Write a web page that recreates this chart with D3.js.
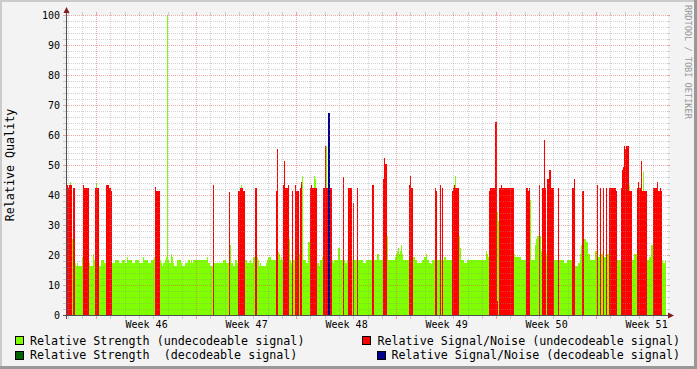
<!DOCTYPE html>
<html>
<head>
<meta charset="utf-8">
<script src="https://cdn.jsdelivr.net/npm/d3@7"></script>
<style>
  html, body { margin: 0; padding: 0; background: #f3f3f3; }
  svg { display: block; font-family: "DejaVu Sans Mono", monospace; }
</style>
</head>
<body>
<div id="graph"></div>
<script>
// consolidated rrd samples, one every 6048 s, first one Fri 2007-11-09 22:16
var start = new Date(2007, 10, 9, 22, 16)
var stepMs = 6048 * 1000
var sampleCount = 600

// relative strength (undecodeable signal), as [number of samples, value]
var strengthRuns = [
  [3, 17.3], [1, 44.2], [1, 17.3], [1, 25.3], [3, 17.3], [1, 16.4], [1, 17.3], [4, 16.4], [1, 19.4],
  [7, 17.3], [3, 16.4], [1, 20.3], [1, 18.3], [1, 17.3], [1, 44.0], [2, 17.3], [2, 16.4], [3, 18.3],
  [11, 17.3], [4, 18.3], [3, 17.3], [3, 18.3], [2, 17.3], [1, 19.2], [4, 18.3], [3, 17.3], [4, 18.3],
  [4, 17.3], [1, 19.2], [4, 18.3], [3, 17.3], [3, 18.3], [1, 19.2], [5, 17.3], [1, 18.3], [1, 17.3],
  [1, 16.4], [2, 17.3], [1, 18.3], [1, 19.2], [1, 100], [1, 18.3], [2, 17.3], [1, 20.3], [1, 19.2],
  [1, 17.3], [3, 16.4], [4, 18.3], [1, 17.3], [3, 16.4], [3, 17.3], [2, 18.3], [1, 17.3], [1, 18.3],
  [1, 17.3], [14, 18.3], [1, 19.2], [2, 17.3], [3, 16.4], [10, 17.3], [3, 18.3], [4, 17.3], [1, 23.3],
  [2, 17.3], [2, 16.4], [2, 18.2], [4, 17.3], [1, 43.3], [3, 17.3], [2, 18.2], [3, 17.3], [1, 18.2],
  [2, 17.3], [2, 19.3], [2, 17.3], [1, 19.3], [1, 18.2], [1, 16.4], [1, 17.3], [5, 16.4], [1, 17.3],
  [1, 18.2], [3, 19.3], [7, 18.2], [1, 21.1], [1, 20.2], [1, 18.2], [1, 19.3], [7, 18.2], [1, 25.3],
  [1, 18.2], [1, 17.3], [7, 18.2], [1, 20.3], [2, 18.2], [1, 46.2], [3, 18.2], [2, 17.3], [2, 24.2],
  [4, 18.2], [1, 46.2], [1, 45.3], [1, 18.2], [2, 17.3], [1, 16.4], [2, 18.2], [1, 19.3], [3, 18.2],
  [1, 56.4], [6, 18.2], [1, 17.3], [4, 18.2], [2, 22.2], [5, 18.2], [2, 17.3], [16, 18.2], [3, 17.3],
  [11, 18.2], [2, 20.3], [8, 18.2], [1, 26.4], [7, 18.2], [1, 19.3], [1, 20.2], [1, 21.3], [1, 22.2],
  [1, 20.2], [1, 21.3], [1, 23.3], [1, 20.2], [10, 18.2], [2, 19.2], [2, 18.2], [5, 17.3], [2, 18.2],
  [2, 19.2], [1, 20.2], [2, 18.2], [2, 17.3], [1, 16.9], [12, 18.2], [2, 19.2], [9, 18.2], [1, 46.2],
  [3, 18.2], [1, 26.4], [1, 22.2], [3, 18.2], [3, 17.3], [19, 18.2], [1, 21.3], [1, 20.2], [1, 19.2],
  [8, 18.2], [1, 34.2], [1, 31.4], [15, 18.2], [1, 20.2], [6, 19.2], [9, 18.2], [1, 38.2], [4, 18.2],
  [1, 23.3], [1, 25.3], [4, 26.3], [1, 21.3], [4, 18.2], [1, 20.2], [17, 18.2], [3, 17.3], [8, 18.2],
  [3, 16.4], [2, 17.3], [1, 20.2], [1, 23.3], [2, 18.2], [2, 25.3], [2, 24.2], [2, 20.2], [5, 18.2],
  [2, 21.3], [1, 18.2], [2, 19.2], [1, 18.2], [2, 20.2], [1, 18.2], [2, 19.2], [1, 18.2], [2, 20.2],
  [20, 18.2], [1, 43.3], [4, 18.2], [3, 20.2], [6, 18.2], [1, 47.6], [5, 18.2], [2, 19.2], [2, 23.3],
  [10, 18.2], [2, 17.3], [1, 18.2]
]

// relative strength (decodeable signal), as [first sample, last sample, value]
var strengthDecSpans = [[261, 262, 18.2]]

// relative signal/noise (undecodeable signal), as [first sample, last sample, value]
var snrSpans = [
  [0, 0, 43.3], [1, 1, 42.2], [2, 4, 43.3], [6, 7, 42.2],
  [16, 16, 43.3], [17, 21, 42.2], [28, 31, 42.2],
  [39, 41, 43.3], [42, 43, 42.2], [44, 44, 41.4],
  [88, 88, 42.6], [89, 92, 41.4], [146, 146, 43.3], [162, 162, 41.1],
  [171, 172, 41.3], [173, 175, 42.2], [176, 177, 41.3], [188, 189, 42.2],
  [209, 209, 41.3], [210, 210, 55.3],
  [216, 216, 43.3], [217, 217, 51.3], [218, 220, 42.2], [221, 221, 43.3],
  [225, 225, 41.3], [228, 228, 43.3], [229, 231, 41.3], [233, 233, 42.2], [234, 234, 44.2],
  [243, 243, 42.2], [244, 244, 43.3], [245, 249, 42.2],
  [256, 257, 42.2], [258, 258, 56.4], [259, 260, 42.2], [263, 264, 42.2],
  [276, 276, 46.0], [281, 284, 42.2], [286, 286, 37.3], [290, 290, 42.2], [305, 306, 43.3],
  [316, 316, 45.3], [317, 317, 52.3], [318, 319, 50.3],
  [342, 342, 43.3], [343, 343, 46.2], [344, 345, 42.2],
  [368, 368, 42.2], [369, 369, 41.3], [373, 373, 43.3], [375, 375, 42.2],
  [385, 385, 41.3], [386, 386, 42.2], [387, 387, 43.3], [388, 391, 42.2],
  [422, 422, 41.3], [423, 427, 42.2], [428, 429, 64.2], [430, 430, 4.7],
  [432, 433, 42.2], [434, 434, 43.3], [435, 446, 42.2],
  [459, 460, 42.2], [461, 461, 41.3], [462, 462, 42.2], [472, 472, 43.3],
  [475, 476, 42.2], [477, 477, 58.4], [478, 478, 42.2],
  [480, 481, 45.3], [482, 483, 48.3], [484, 486, 42.2], [491, 491, 42.2],
  [505, 506, 42.2], [507, 507, 45.3], [515, 516, 41.3],
  [530, 530, 43.3], [533, 533, 42.2], [536, 536, 42.2], [539, 539, 42.2],
  [542, 548, 42.2], [549, 549, 41.3],
  [554, 554, 42.2], [555, 555, 48.3], [556, 556, 49.3], [557, 557, 56.4], [558, 558, 55.3],
  [559, 561, 56.4], [562, 564, 41.3],
  [570, 570, 42.2], [571, 571, 44.2], [572, 573, 42.2], [574, 574, 51.3], [575, 579, 41.3],
  [586, 589, 42.2], [590, 590, 44.2], [591, 592, 41.3], [593, 593, 42.2], [594, 594, 41.3]
]

// relative signal/noise (decodeable signal)
var snrDecSpans = [[261, 262, 67.3]]

var yTicks = [0, 10, 20, 30, 40, 50, 60, 70, 80, 90, 100]
var legendLabels = [
  "Relative Strength (undecodeable signal)",
  "Relative Signal/Noise (undecodeable signal)",
  "Relative Strength  (decodeable signal)",
  "Relative Signal/Noise (decodeable signal)"
]

var width = 697,
  height = 369

var svg = d3.select("#graph")
  .append("svg")
  .attr("width", width)
  .attr("height", height)

var end = new Date(+start + sampleCount * stepMs)

var x = d3.scaleTime()
  .domain([start, end])
  .range([67, 667])

var y = d3.scaleLinear()
  .domain([0, 100])
  .range([315, 15])

function sampleTime(i) {
  return new Date(+start + i * stepMs)
}

function fromRuns(runs) {
  var out = [], i = 0
  runs.forEach(function (r) {
    for (var k = 0; k < r[0]; k++) out.push({ i: i++, v: r[1] })
  })
  return out
}

function fromSpans(spans) {
  var out = []
  spans.forEach(function (s) {
    for (var i = s[0]; i <= s[1]; i++) out.push({ i: i, v: s[2] })
  })
  return out
}

// background and 3d frame
svg.append("rect").attr("width", width).attr("height", height).attr("fill", "#f3f3f3")
svg.append("rect").attr("x", 0).attr("y", 0).attr("width", width).attr("height", 2).attr("fill", "#cbcbcb")
svg.append("rect").attr("x", 0).attr("y", 0).attr("width", 2).attr("height", height).attr("fill", "#cbcbcb")
svg.append("rect").attr("x", 0).attr("y", height - 3).attr("width", width).attr("height", 3).attr("fill", "#999")
svg.append("rect").attr("x", width - 3).attr("y", 0).attr("width", 3).attr("height", height).attr("fill", "#999")

// canvas
svg.append("rect")
  .attr("x", 67).attr("y", 15)
  .attr("width", 601).attr("height", 300)
  .attr("fill", "#fff")

function drawSeries(points, color) {
  svg.append("g")
    .attr("shape-rendering", "crispEdges")
    .selectAll("rect")
    .data(points)
    .enter()
    .append("rect")
    .attr("x", function (d) { return x(sampleTime(d.i)) })
    .attr("width", function (d) { return x(sampleTime(d.i + 1)) - x(sampleTime(d.i)) })
    .attr("y", function (d) { return y(d.v) })
    .attr("height", function (d) { return y(0) - y(d.v) })
    .attr("fill", color)
}

var colors = ["#7fff00", "#ff0000", "#006400", "#000090"]

drawSeries(fromRuns(strengthRuns), colors[0])
drawSeries(fromSpans(strengthDecSpans), colors[2])
drawSeries(fromSpans(snrSpans), colors[1])
drawSeries(fromSpans(snrDecSpans), colors[3])

// grid is drawn over the data, like rrdtool does
var minorColor = "rgba(143,143,143,0.4)",
  majorColor = "rgba(222,80,80,0.5)"
var grid = svg.append("g").attr("shape-rendering", "crispEdges")

function hGrid(v, color) {
  var yy = Math.round(y(v)) + 0.5
  grid.append("line").attr("x1", 67).attr("x2", 667).attr("y1", yy).attr("y2", yy)
    .attr("stroke", color).attr("stroke-dasharray", "1,1")
  grid.append("line").attr("x1", 63).attr("x2", 66).attr("y1", yy).attr("y2", yy).attr("stroke", color)
  grid.append("line").attr("x1", 667).attr("x2", 670).attr("y1", yy).attr("y2", yy).attr("stroke", color)
}

function vGrid(t, color) {
  var xx = Math.floor(x(t)) + 0.5
  grid.append("line").attr("x1", xx).attr("x2", xx).attr("y1", 15).attr("y2", 315)
    .attr("stroke", color).attr("stroke-dasharray", "1,1")
  grid.append("line").attr("x1", xx).attr("x2", xx).attr("y1", 316).attr("y2", 319).attr("stroke", color)
  grid.append("line").attr("x1", xx).attr("x2", xx).attr("y1", 12).attr("y2", 15).attr("stroke", color)
}

d3.range(2, 100, 2).filter(function (v) { return v % 10 !== 0 }).forEach(function (v) {
  hGrid(v, minorColor)
})
yTicks.filter(function (v) { return v > 0 }).forEach(function (v) {
  hGrid(v, majorColor)
})

var mondays = d3.timeMonday.range(start, end)
d3.timeDay.range(start, end).forEach(function (d) {
  if (d.getDay() !== 1) vGrid(d, minorColor)
})
mondays.forEach(function (d) {
  vGrid(d, majorColor)
})

// axes with arrows
var axisColor = "#4f4f4f",
  arrowColor = "#7f1f1f"
svg.append("line").attr("x1", 63).attr("x2", 671).attr("y1", 315.5).attr("y2", 315.5)
  .attr("stroke", axisColor).attr("shape-rendering", "crispEdges")
svg.append("line").attr("x1", 66.5).attr("x2", 66.5).attr("y1", 319).attr("y2", 12)
  .attr("stroke", axisColor).attr("shape-rendering", "crispEdges")
svg.append("path").attr("d", "M63.5,13 L66.5,7 L69.5,13 Z").attr("fill", arrowColor)
svg.append("path").attr("d", "M668,312.5 L674,315.5 L668,318.5 Z").attr("fill", arrowColor)

// y tick labels
svg.append("g")
  .selectAll("text")
  .data(yTicks)
  .enter()
  .append("text")
  .attr("x", 60)
  .attr("y", function (d) { return y(d) + 3.6 })
  .attr("text-anchor", "end")
  .attr("font-size", "10px")
  .attr("fill", "#000")
  .text(function (d) { return d })

// week labels, centred on the middle of each week
var weekFormat = d3.timeFormat("Week %V")
svg.append("g")
  .selectAll("text")
  .data(mondays.filter(function (d) { return x(d3.timeHour.offset(d, 84)) < 667 }))
  .enter()
  .append("text")
  .attr("x", function (d) { return x(d3.timeHour.offset(d, 84)) })
  .attr("y", 328)
  .attr("text-anchor", "middle")
  .attr("font-size", "10px")
  .text(function (d) { return weekFormat(d) })

// y title
svg.append("text")
  .attr("transform", "translate(13.5,165) rotate(-90)")
  .attr("text-anchor", "middle")
  .attr("font-size", "11.7px")
  .text("Relative Quality")

// watermark
svg.append("text")
  .attr("transform", "translate(685,5) rotate(90)")
  .attr("font-size", "8.6px")
  .attr("fill", "#999")
  .text("RRDTOOL / TOBI OETIKER")

// legend: left column starts at 15, right column is right aligned at 680
var legendRows = [344.5, 359]
legendLabels.forEach(function (label, i) {
  var row = Math.floor(i / 2),
    col = i % 2,
    base = legendRows[row]
  var t = svg.append("text")
    .attr("y", base)
    .attr("font-size", "11.7px")
    .attr("xml:space", "preserve")
    .style("white-space", "pre")
    .text(label)
  var tx
  if (col === 0) {
    tx = 30
  } else {
    tx = 680 - t.node().getComputedTextLength()
  }
  t.attr("x", tx)
  svg.append("rect")
    .attr("x", tx - 14.5)
    .attr("y", base - 8)
    .attr("width", 8)
    .attr("height", 8)
    .attr("fill", colors[i])
    .attr("stroke", "#000")
    .attr("shape-rendering", "crispEdges")
})
</script>
</body>
</html>
